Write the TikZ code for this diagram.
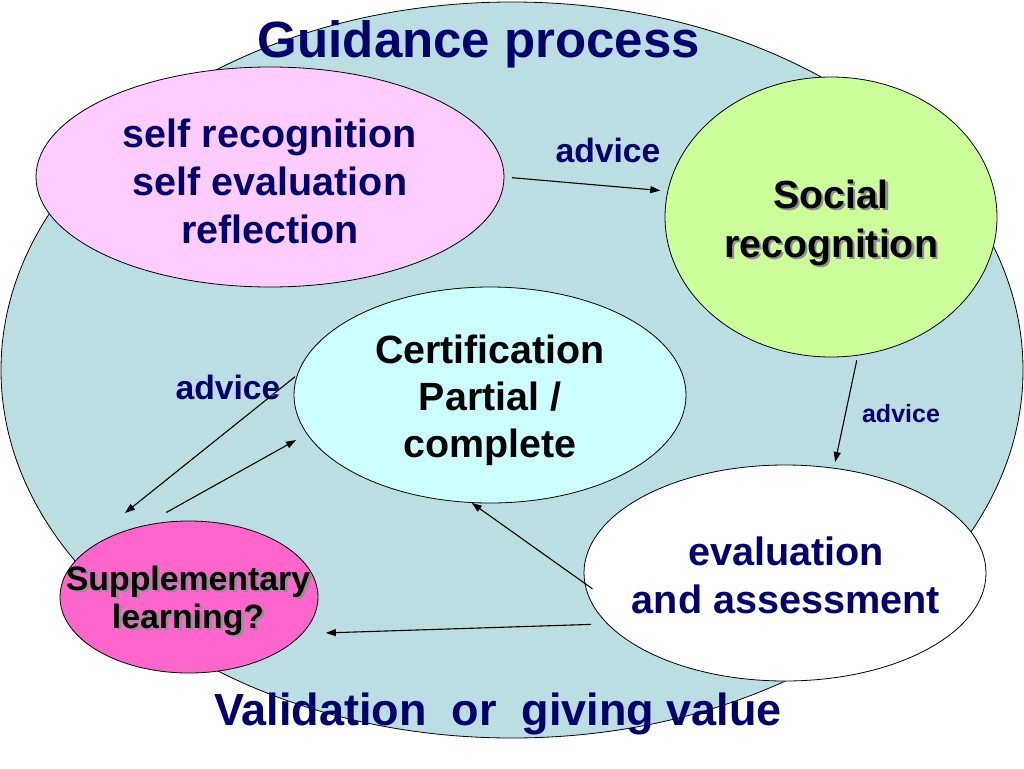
\documentclass[tikz,border=0pt]{standalone}
\usepackage{fontspec}
\setmainfont{Liberation Sans}
\usetikzlibrary{shapes.geometric,arrows.meta}
\definecolor{bigblue}{RGB}{187,222,226}
\definecolor{pinkfill}{RGB}{255,204,255}
\definecolor{greenfill}{RGB}{204,255,153}
\definecolor{certfill}{RGB}{204,255,255}
\definecolor{suppfill}{RGB}{255,102,204}
\definecolor{navy}{RGB}{0,0,110}
\definecolor{shadowgray}{RGB}{145,145,145}
\newcommand\topr{\rule{0pt}{0.8em}}
\newcommand\botr{\rule[-0.8em]{0pt}{0.8em}}
\newcommand\shtext[1]{\leavevmode\rlap{\hspace{2.5pt}\raisebox{-2.5pt}{\textcolor{shadowgray}{#1}}}#1}
\begin{document}
\begin{tikzpicture}[x=1pt,y=-1pt,
  blob/.style={ellipse, draw=black, line width=0.8pt, inner sep=0pt, outer sep=0pt},
  txt/.style={inner sep=0pt, outer sep=0pt, align=center},
  navytxt/.style={txt, text=navy},
  blacktxt/.style={txt, text=black},
  conn/.style={line width=1.1pt, -{Triangle[length=10pt,width=7pt]}},
]
\useasboundingbox (0,0) rectangle (1024,768);
\fill[white] (0,0) rectangle (1024,768);
% ellipses
\node[blob, fill=bigblue, minimum width=1022pt, minimum height=736pt] (big) at (512,370) {};
\node[blob, fill=pinkfill, minimum width=468pt, minimum height=220pt] (pink) at (270,177) {};
\node[blob, fill=greenfill, minimum width=332pt, minimum height=280pt] (green) at (831,217) {};
\node[blob, fill=certfill, minimum width=392pt, minimum height=216pt] (cert) at (490,395) {};
\node[blob, fill=white, minimum width=402pt, minimum height=216pt] (eval) at (785,573) {};
\node[blob, fill=suppfill, minimum width=258pt, minimum height=152pt] (supp) at (189,597) {};
% texts
\node[navytxt, anchor=base, font=\fontsize{51}{60}\selectfont\bfseries] (title) at (479,57) {Guidance process};
\node[navytxt, anchor=base, font=\fontsize{45}{54}\selectfont\bfseries] (bottomtitle) at (498,725) {Validation\ \ or\ \ giving value};
\node[navytxt, font=\fontsize{39.5}{48}\selectfont\bfseries] (selftxt) at (270,195.5) {\topr self recognition\\self evaluation\\reflection\botr};
\node[blacktxt, font=\fontsize{39.3}{49}\selectfont\bfseries] (socialtxt) at (831,232.5) {\topr\shtext{Social}\\\shtext{recognition}\botr};
\node[blacktxt, font=\fontsize{39.4}{47}\selectfont\bfseries] (certtxt) at (490,410.5) {\topr Certification\\Partial /\\complete\botr};
\node[navytxt, font=\fontsize{39.6}{48}\selectfont\bfseries] (evaltxt) at (786,589) {\topr evaluation\\and assessment\botr};
\node[blacktxt, font=\fontsize{33.8}{38}\selectfont\bfseries] (supptxt) at (188,609) {\topr\shtext{Supplementary}\\\shtext{learning?}\botr};
\node[navytxt, anchor=base, font=\fontsize{33.7}{40}\selectfont\bfseries] (advtop) at (608,162) {advice};
\node[navytxt, anchor=base, font=\fontsize{33.7}{40}\selectfont\bfseries] (advleft) at (228,399) {advice};
\node[navytxt, anchor=base, font=\fontsize{25}{30}\selectfont\bfseries] (advright) at (901,422) {advice};
% connectors
\coordinate (a5end) at (125,513);
\draw[conn, shorten <=8pt, shorten >=7.6pt] (pink.0.71) -- (green.171.6);
\draw[conn, shorten <=5.2pt, shorten >=6.4pt] (green.281.5) -- (eval.65.1);
\draw[conn, shorten <=-9.2pt, shorten >=0.8pt] (eval.183.9) -- (cert.260.2);
\draw[conn, shorten <=16.6pt, shorten >=23.9pt] (eval.196.7) -- (supp.342.1);
\draw[conn, shorten <=3pt] (cert.174.1) -- (a5end);
\draw[conn, shorten <=28.5pt, shorten >=12.75pt] (supp.124.9) -- (cert.192);
\end{tikzpicture}
\end{document}
